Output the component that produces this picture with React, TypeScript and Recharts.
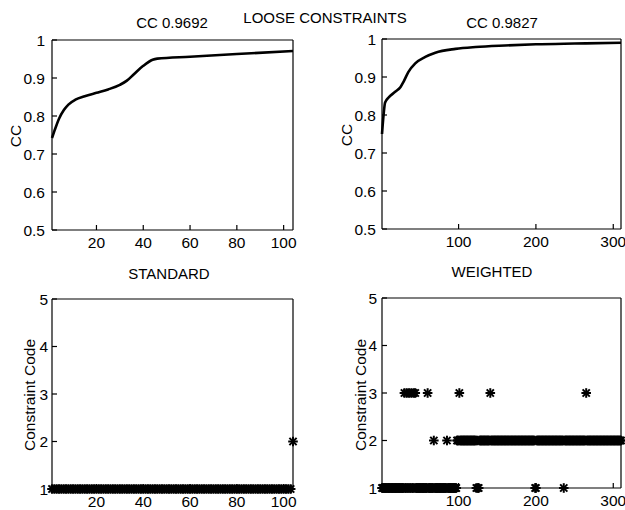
import React from "react";
import { LineChart, Line, ScatterChart, Scatter, XAxis, YAxis } from "recharts";

const W = 625;
const H = 510;
const FONT = '"Liberation Sans", Arial, Helvetica, sans-serif';

// ---- data ----
const looseX = [1, 2, 4, 6, 8, 11, 15, 20, 25, 30, 33, 36, 40, 44, 46, 60, 80, 104];
const looseCC = [0.742, 0.76, 0.793, 0.815, 0.83, 0.843, 0.852, 0.861, 0.87, 0.882, 0.893, 0.91, 0.932, 0.948, 0.951, 0.956, 0.963, 0.971];

const weightedX = [1, 3, 5, 10, 18, 25, 29, 35, 44, 57, 70, 96, 122, 160, 200, 250, 310];
const weightedCC = [0.75, 0.8, 0.833, 0.847, 0.861, 0.874, 0.888, 0.913, 0.936, 0.953, 0.964, 0.974, 0.979, 0.983, 0.986, 0.988, 0.99];

// constraint code per sample, as [code, number of consecutive samples]
const standardRuns: [number, number][] = [[1, 103], [2, 1]];
const weightedRuns: [number, number][] = [
  [1, 29], [3, 1], [1, 2], [3, 1], [1, 2], [3, 1], [1, 2], [3, 1], [1, 2], [3, 1], [1, 1], [3, 1],
  [1, 15], [3, 1], [1, 7], [2, 1], [1, 16], [2, 1], [1, 12], [2, 3], [3, 1], [2, 21],
  [1, 1], [2, 1], [1, 2], [2, 14], [3, 1], [2, 57], [1, 2], [2, 35], [1, 1], [2, 28], [3, 1], [2, 45],
];

const stdXTicks = [20, 40, 60, 80, 100];
const wXTicks = [100, 200, 300];
const ccTicks = [0.5, 0.6, 0.7, 0.8, 0.9, 1];
const codeTicks = [1, 2, 3, 4, 5];

const titles = {
  main: "LOOSE CONSTRAINTS",
  tl: "CC 0.9692",
  tr: "CC 0.9827",
  bl: "STANDARD",
  br: "WEIGHTED",
  ccLabel: "CC",
  codeLabel: "Constraint Code",
};

// ---- table builders ----
const curve = (xs: number[], ys: number[]) => xs.map((x, i) => ({ x, y: ys[i] }));
const expandRuns = (runs: [number, number][]) => {
  const out: { x: number; y: number }[] = [];
  let idx = 1;
  for (const [code, n] of runs) {
    for (let k = 0; k < n; k++) {
      out.push({ x: idx, y: code });
      idx++;
    }
  }
  return out;
};

const looseData = curve(looseX, looseCC);
const weightedData = curve(weightedX, weightedCC);
const standardPts = expandRuns(standardRuns);
const weightedPts = expandRuns(weightedRuns);

const Star = (props: any) => {
  const { cx, cy } = props;
  if (cx == null || cy == null) return null;
  const r = 4.8;
  const d = 3.6;
  return (
    <g stroke="#000" strokeWidth={2}>
      <line x1={cx - r} y1={cy} x2={cx + r} y2={cy} />
      <line x1={cx} y1={cy - r} x2={cx} y2={cy + r} />
      <line x1={cx - d} y1={cy - d} x2={cx + d} y2={cy + d} />
      <line x1={cx - d} y1={cy + d} x2={cx + d} y2={cy - d} />
    </g>
  );
};

type Box = { x0: number; x1: number; y0: number; y1: number };

const tickStyle = { fill: "#000", fontSize: 15.5, fontFamily: FONT };
const lineStyle = { stroke: "#000", strokeWidth: 1.2 };

const XH = 25; // bottom axis band
const YW = 45; // left axis band

function axes(domX: [number, number], ticksX: number[], domY: [number, number], ticksY: number[], yMargin: number) {
  return [
    <XAxis key="xb" xAxisId="b" type="number" dataKey="x" domain={domX} ticks={ticksX} height={XH}
      tickSize={-5} tickMargin={12} tick={tickStyle} axisLine={lineStyle} tickLine={lineStyle}
      interval={0} />,
    <XAxis key="xt" xAxisId="t" orientation="top" type="number" dataKey="x" domain={domX} ticks={ticksX} height={1}
      tickSize={-5} tick={false} axisLine={lineStyle} tickLine={lineStyle} interval={0} />,
    <YAxis key="yl" yAxisId="l" type="number" dataKey="y" domain={domY} ticks={ticksY} width={YW}
      tickSize={-5} tickMargin={yMargin} tick={tickStyle} axisLine={lineStyle} tickLine={lineStyle}
      interval={0} tickFormatter={(v: number) => String(v)} />,
    <YAxis key="yr" yAxisId="r" orientation="right" type="number" dataKey="y" domain={domY} ticks={ticksY} width={1}
      tickSize={-5} tick={false} axisLine={lineStyle} tickLine={lineStyle} interval={0} />,
  ];
}

const margin = (b: Box) => ({ top: b.y0 - 1, left: b.x0 - YW, right: W - b.x1 - 1, bottom: H - b.y1 - XH });
const layer: React.CSSProperties = { position: "absolute", left: 0, top: 0 };

const TL: Box = { x0: 52, x1: 293, y0: 40, y1: 230 };
const TR: Box = { x0: 382, x1: 621, y0: 39, y1: 229 };
const BL: Box = { x0: 52, x1: 293, y0: 299, y1: 489 };
const BR: Box = { x0: 382, x1: 621, y0: 298, y1: 488 };

export default function App() {
  return (
    <div style={{ position: "absolute", left: 0, top: 0, width: W, height: H, background: "#fff", fontFamily: FONT }}>
      <div style={layer}>
        <LineChart width={W} height={H} data={looseData} margin={margin(TL)}>
          {axes([1, 104], stdXTicks, [0.5, 1], ccTicks, 12)}
          <Line xAxisId="b" yAxisId="l" type="monotone" dataKey="y" stroke="#000" strokeWidth={2.6}
            dot={false} isAnimationActive={false} />
        </LineChart>
      </div>
      <div style={layer}>
        <LineChart width={W} height={H} data={weightedData} margin={margin(TR)}>
          {axes([1, 310], wXTicks, [0.5, 1], ccTicks, 11)}
          <Line xAxisId="b" yAxisId="l" type="monotone" dataKey="y" stroke="#000" strokeWidth={2.6}
            dot={false} isAnimationActive={false} />
        </LineChart>
      </div>
      <div style={layer}>
        <ScatterChart width={W} height={H} margin={margin(BL)}>
          {axes([1, 104], stdXTicks, [1, 5], codeTicks, 9)}
          <Scatter xAxisId="b" yAxisId="l" data={standardPts} shape={<Star />} isAnimationActive={false} />
        </ScatterChart>
      </div>
      <div style={layer}>
        <ScatterChart width={W} height={H} margin={margin(BR)}>
          {axes([1, 310], wXTicks, [1, 5], codeTicks, 10)}
          <Scatter xAxisId="b" yAxisId="l" data={weightedPts} shape={<Star />} isAnimationActive={false} />
        </ScatterChart>
      </div>
      <svg width={W} height={H} style={{ ...layer, pointerEvents: "none" }} fontFamily={FONT} fill="#000">
        <text x={325} y={22.5} fontSize={15} textAnchor="middle">{titles.main}</text>
        <text x={172} y={27.5} fontSize={15} textAnchor="middle">{titles.tl}</text>
        <text x={502} y={27.5} fontSize={15} textAnchor="middle">{titles.tr}</text>
        <text x={169} y={278.5} fontSize={15} textAnchor="middle">{titles.bl}</text>
        <text x={492} y={277} fontSize={15} textAnchor="middle">{titles.br}</text>
        <text transform="translate(20.5,136) rotate(-90)" fontSize={15.5} textAnchor="middle">{titles.ccLabel}</text>
        <text transform="translate(352,135) rotate(-90)" fontSize={15.5} textAnchor="middle">{titles.ccLabel}</text>
        <text transform="translate(35,395) rotate(-90)" fontSize={15.5} textAnchor="middle">{titles.codeLabel}</text>
        <text transform="translate(365.5,395) rotate(-90)" fontSize={15.5} textAnchor="middle">{titles.codeLabel}</text>
      </svg>
    </div>
  );
}
